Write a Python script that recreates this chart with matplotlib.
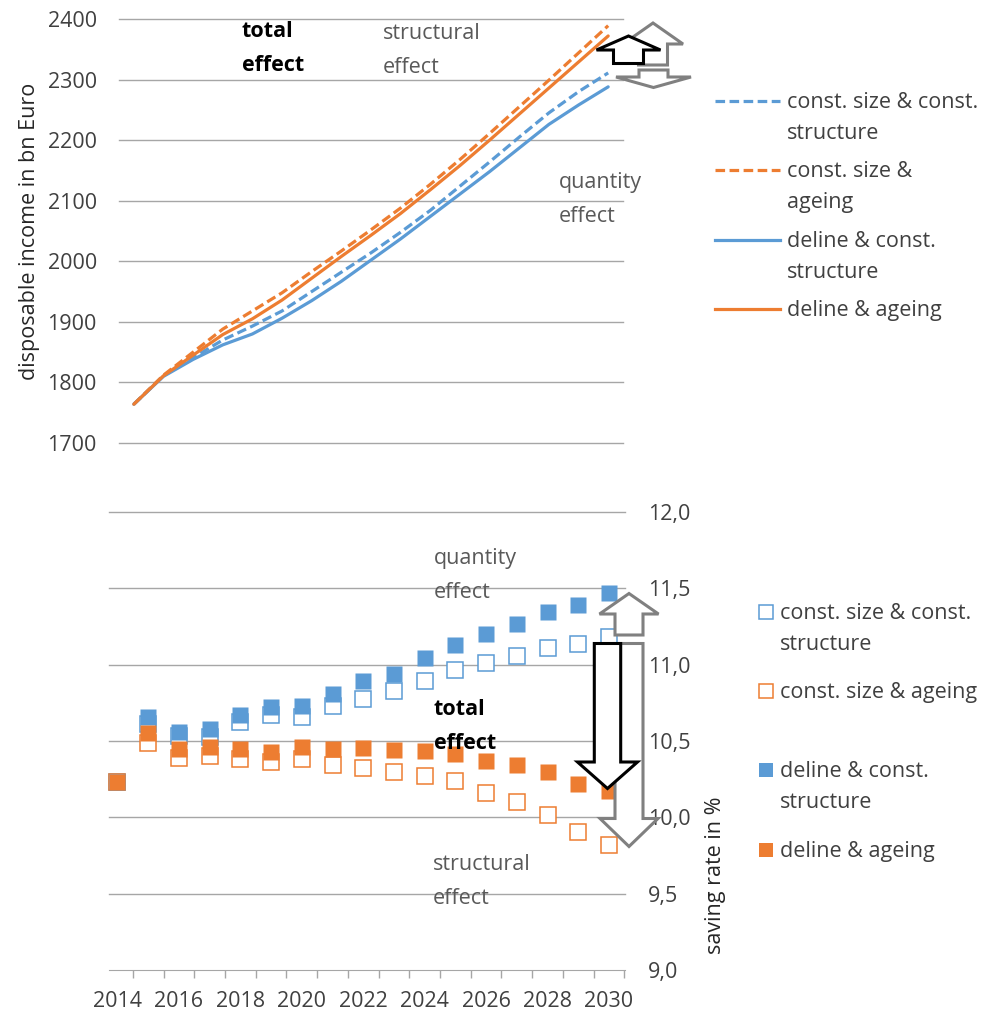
import numpy as np
import matplotlib
matplotlib.use("Agg")
import matplotlib.pyplot as plt
from matplotlib.lines import Line2D
from matplotlib.patches import Polygon

plt.rcParams["font.family"] = ["Open Sans", "DejaVu Sans"]

years = list(range(2014, 2031))
series_names = ["const. size & const. structure", "const. size & ageing",
                "deline & const. structure", "deline & ageing"]
top_labels = ["const. size & const.\nstructure", "const. size &\nageing",
              "deline & const.\nstructure", "deline & ageing"]
bottom_labels = ["const. size & const.\nstructure", "const. size & ageing",
                 "deline & const.\nstructure", "deline & ageing"]

# disposable income, bn Euro
inc_const_const = [1764, 1811, 1841, 1870, 1893, 1918, 1950, 1982, 2014, 2048,
                   2084, 2124, 2164, 2205, 2245, 2280, 2311]
inc_const_ageing = [1764, 1812, 1850, 1888, 1918, 1948, 1983, 2017, 2052, 2088,
                    2127, 2168, 2211, 2255, 2299, 2344, 2389]
inc_decl_const = [1764, 1810, 1838, 1862, 1880, 1906, 1935, 1967, 2002, 2037,
                  2074, 2111, 2148, 2187, 2226, 2258, 2288]
inc_decl_ageing = [1764, 1811, 1845, 1879, 1905, 1936, 1972, 2008, 2043, 2079,
                   2118, 2158, 2200, 2243, 2286, 2329, 2372]

# saving rate, %
sav_const_const = [10.23, 10.61, 10.53, 10.524, 10.623, 10.67, 10.66, 10.73, 10.776,
                   10.825, 10.895, 10.965, 11.01, 11.06, 11.107, 11.136, 11.18]
sav_const_ageing = [10.23, 10.49, 10.39, 10.40, 10.385, 10.365, 10.38, 10.34, 10.325,
                    10.295, 10.273, 10.24, 10.16, 10.10, 10.015, 9.905, 9.82]
sav_decl_const = [10.23, 10.658, 10.557, 10.579, 10.673, 10.72, 10.726, 10.81, 10.89,
                  10.94, 11.046, 11.127, 11.20, 11.265, 11.344, 11.39, 11.47]
sav_decl_ageing = [10.23, 10.555, 10.445, 10.46, 10.445, 10.43, 10.46, 10.445, 10.455,
                   10.44, 10.435, 10.415, 10.37, 10.345, 10.295, 10.22, 10.175]

inc_ticks = list(range(1700, 2401, 100))
sav_ticks = [9.0, 9.5, 10.0, 10.5, 11.0, 11.5, 12.0]
year_labels = years[::2]

BLUE = "#5b9bd5"
ORANGE = "#ed7d31"
GRID = "#a6a6a6"
TXT = "#404040"
GREY_TXT = "#595959"
ARROW_GREY = "#808080"
FS = 15.5

W, H = 981, 1016
fig = plt.figure(figsize=(W / 100, H / 100), dpi=100)


def fx(x):
    return x / W


def fy(y):
    return 1 - y / H


# ---- top: disposable income ----
ax1 = fig.add_axes([fx(119), fy(443), (623 - 119) / W, (443 - 19) / H])
for v in inc_ticks:
    ax1.axhline(v, color=GRID, lw=1, clip_on=False, zorder=0)
dash = (0, (3.0, 1.4))
top_series = [(inc_const_const, BLUE, dash), (inc_const_ageing, ORANGE, dash),
              (inc_decl_const, BLUE, "-"), (inc_decl_ageing, ORANGE, "-")]
for vals, col, ls in top_series:
    ax1.plot(years, vals, color=col, lw=2.3, ls=ls, solid_capstyle="round")
ax1.set_xlim(2013.5, 2030.5)
ax1.set_ylim(1700, 2400)
ax1.set_yticks(inc_ticks)
ax1.tick_params(axis="y", length=0, pad=16, labelsize=FS, labelcolor=TXT)
ax1.set_xticks([])
for s in ax1.spines.values():
    s.set_visible(False)
ax1.patch.set_alpha(0)

# ---- bottom: saving rate ----
ax2 = fig.add_axes([fx(109), fy(970), (625 - 109) / W, (970 - 512) / H])
for v in sav_ticks[1:]:
    ax2.axhline(v, color=GRID, lw=1, clip_on=False, zorder=0)
ax2.plot(years, sav_const_const, ls="none", marker="s", ms=11.2, mfc="white",
         mec=BLUE, mew=1.1, clip_on=False)
ax2.plot(years, sav_const_ageing, ls="none", marker="s", ms=11.2, mfc="white",
         mec=ORANGE, mew=1.1, clip_on=False)
ax2.plot(years, sav_decl_const, ls="none", marker="s", ms=11.5, mfc=BLUE,
         mec="none", clip_on=False)
ax2.plot(years, sav_decl_ageing, ls="none", marker="s", ms=11.5, mfc=ORANGE,
         mec="none", clip_on=False)
ax2.set_xlim(2013.725, 2030.52)
ax2.set_ylim(9, 12)
ax2.yaxis.tick_right()
ax2.set_yticks(sav_ticks)
ax2.set_yticklabels([f"{v:.1f}".replace(".", ",") for v in sav_ticks])
ax2.tick_params(axis="y", length=0, pad=16.5, labelsize=FS, labelcolor=TXT)
ax2.set_xticks(year_labels)
ax2.set_xticks([y + 0.5 for y in years], minor=True)
ax2.tick_params(axis="x", which="major", length=0, pad=15, labelsize=FS,
                labelcolor=TXT)
ax2.tick_params(axis="x", which="minor", length=5.8, width=1, color=GRID)
for k, s in ax2.spines.items():
    s.set_visible(k == "bottom")
ax2.spines["bottom"].set_color(GRID)
ax2.patch.set_alpha(0)

# axis titles
fig.text(fx(30), fy(231), "disposable income in bn Euro", rotation=90,
         ha="center", va="center", fontsize=FS, color="#262626")
fig.text(fx(715), fy(875), "saving rate in %", rotation=90,
         ha="center", va="center", fontsize=FS, color="#262626")

# effect annotations
notes = [(242, 30, "total\neffect", "black", "bold"),
         (383, 32, "structural\neffect", GREY_TXT, "normal"),
         (559, 181, "quantity\neffect", GREY_TXT, "normal"),
         (434, 557, "quantity\neffect", GREY_TXT, "normal"),
         (434, 708, "total\neffect", "black", "bold"),
         (433, 863, "structural\neffect", GREY_TXT, "normal")]
for x, y, s, c, wt in notes:
    fig.text(fx(x), fy(y - 9), s, ha="left", va="top", fontsize=FS, color=c,
             fontweight=wt, linespacing=1.82)


# block arrows
def block_arrow(xc, y_tail, y_base, y_tip, shaft, head, col):
    pts = [(xc - shaft, y_tail), (xc - shaft, y_base), (xc - head, y_base),
           (xc, y_tip), (xc + head, y_base), (xc + shaft, y_base),
           (xc + shaft, y_tail)]
    fig.add_artist(Polygon([(fx(a), fy(b)) for a, b in pts], closed=True,
                           transform=fig.transFigure, facecolor="white",
                           edgecolor=col, lw=2.2, joinstyle="miter", zorder=5))


block_arrow(653, 65, 44, 23, 14.5, 30, ARROW_GREY)
block_arrow(653.5, 70, 77, 87.5, 14.5, 37.5, ARROW_GREY)
block_arrow(628.5, 63.5, 50, 36, 15, 32, "black")
block_arrow(629, 635, 614, 593.5, 14, 29.5, ARROW_GREY)
block_arrow(629, 643.5, 818.5, 846.5, 14, 29, ARROW_GREY)
block_arrow(607.5, 643.5, 762, 788.5, 13.2, 30, "black")

# legends
for (vals, col, ls), lab, y in zip(top_series, top_labels, [101, 170, 240, 309]):
    fig.add_artist(Line2D([fx(715), fx(780)], [fy(y), fy(y)], color=col, lw=2.3,
                          ls=ls, transform=fig.transFigure))
    fig.text(fx(787), fy(y - 9), lab, ha="left", va="top", fontsize=FS,
             color=TXT, linespacing=1.63)

leg_marks = [("white", BLUE), ("white", ORANGE), (BLUE, "none"), (ORANGE, "none")]
for (fc, ec), lab, y in zip(leg_marks, bottom_labels, [612, 691, 770, 849.5]):
    fig.add_artist(Line2D([fx(766)], [fy(y)], ls="none", marker="s", ms=10.4,
                          mfc=fc, mec=ec, mew=1.1, transform=fig.transFigure))
    fig.text(fx(780), fy(y - 9), lab, ha="left", va="top", fontsize=FS,
             color=TXT, linespacing=1.63)

fig.savefig("out.png", dpi=100)
